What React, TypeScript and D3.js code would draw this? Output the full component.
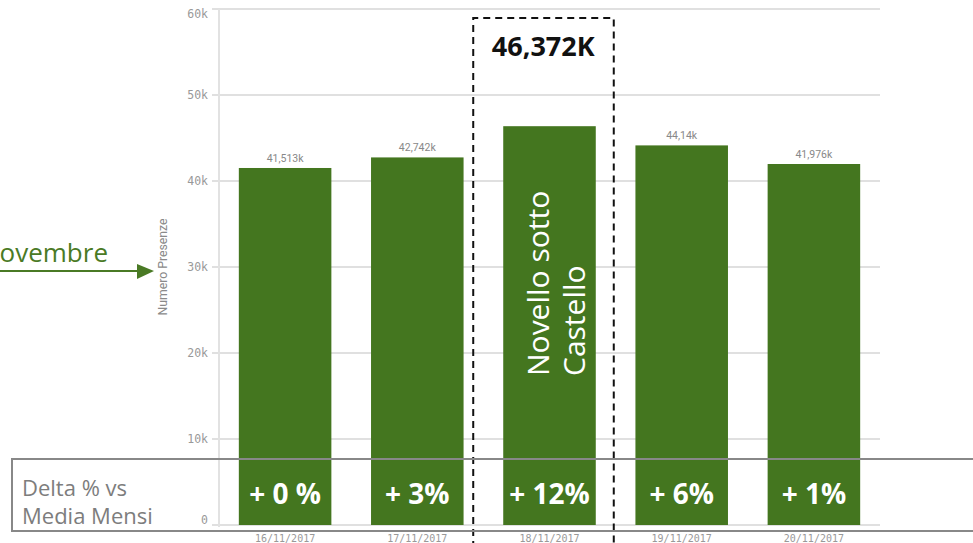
import React from 'react';
import * as d3 from 'd3';

const dates = ['16/11/2017', '17/11/2017', '18/11/2017', '19/11/2017', '20/11/2017'];
const presenze = [41513, 42742, 46372, 44140, 41976];
const valueLabels = ['41,513k', '42,742k', '', '44,14k', '41,976k'];
const deltaLabels = ['+ 0 %', '+ 3%', '+ 12%', '+ 6%', '+ 1%'];
const yTicks = [0, 10000, 20000, 30000, 40000, 50000, 60000];
const yTickLabels = ['0', '10k', '20k', '30k', '40k', '50k', '60k'];
const highlightIndex = 2;
const highlightValue = '46,372K';
const highlightName = ['Novello sotto', 'Castello'];

const W = 973;
const H = 543;
const GREEN = '#44761f';

export default function App() {
  const x = d3.scaleBand<string>().domain(dates).range([219, 880]).paddingInner(0.3).paddingOuter(0.15);
  const y = d3.scaleLinear().domain([0, 60000]).range([525, 9]);
  const bw = x.bandwidth();
  const hx = (x(dates[highlightIndex]) as number);

  return (
    <svg width={W} height={H} style={{ position: 'absolute', left: 0, top: 0, display: 'block' }}>
      <defs>
        <clipPath id="deltaClip">
          <rect x={0} y={440} width={154} height={100} />
        </clipPath>
      </defs>
      <rect x={0} y={0} width={W} height={H} fill="#fff" />

      {/* gridlines */}
      {yTicks.map((t, i) => (
        <g key={t}>
          <line x1={212} x2={880} y1={y(t)} y2={y(t)} stroke="#d6d6d6" strokeWidth={1.5} />
          <text
            x={208}
            y={y(t) + (i === yTicks.length - 1 ? 8.5 : i === 0 ? -1 : 4)}
            textAnchor="end"
            fontFamily="DejaVu Sans Mono"
            fontSize={11.5}
            fill="#999"
          >
            {yTickLabels[i]}
          </text>
        </g>
      ))}
      <line x1={219} x2={219} y1={9} y2={527} stroke="#e2e2e2" strokeWidth={2} />

      {/* y axis title */}
      <text
        transform={`translate(167,267) rotate(-90)`}
        textAnchor="middle"
        fontFamily="Roboto"
        fontSize={12}
        textLength={97}
        lengthAdjust="spacingAndGlyphs"
        fill="#8a8a8a"
      >
        Numero Presenze
      </text>

      {/* bars */}
      {dates.map((d, i) => (
        <rect key={d} x={x(d)} y={y(presenze[i])} width={bw} height={y(0) - y(presenze[i])} fill={GREEN} />
      ))}

      {/* value labels */}
      {dates.map((d, i) =>
        valueLabels[i] ? (
          <text
            key={d}
            x={(x(d) as number) + bw / 2}
            y={y(presenze[i]) - 6}
            textAnchor="middle"
            fontFamily="Roboto"
            fontSize={10.5}
            fill="#888"
          >
            {valueLabels[i]}
          </text>
        ) : null
      )}

      {/* x labels */}
      {dates.map((d) => (
        <text
          key={d}
          x={(x(d) as number) + bw / 2}
          y={542}
          textAnchor="middle"
          fontFamily="DejaVu Sans Mono"
          fontSize={10}
          fill="#999"
        >
          {d}
        </text>
      ))}

      {/* highlighted bar name */}
      {highlightName.map((s, k) => (
        <text
          key={s}
          transform={`translate(${hx + bw / 2 - 1 + k * 36},376) rotate(-90)`}
          fontFamily="Open Sans"
          fontSize={30}
          fill="#fff"
        >
          {s}
        </text>
      ))}

      {/* dashed highlight box */}
      <path
        d={`M${hx - 30},${H + 5} V18 H${hx + bw + 18} V${H + 5}`}
        fill="none"
        stroke="#111"
        strokeWidth={2}
        strokeDasharray="7,5"
      />
      <text
        x={hx + 40}
        y={56}
        textAnchor="middle"
        fontFamily="Open Sans"
        fontWeight={700}
        fontSize={27}
        fill="#111"
      >
        {highlightValue}
      </text>

      {/* delta box */}
      <rect x={12} y={459} width={W + 20} height={72} fill="none" stroke="#888" strokeWidth={2} />
      <g clipPath="url(#deltaClip)">
        <text x={22} y={496} fontFamily="Open Sans" fontSize={22} fill="#7d7d7d">Delta % vs</text>
        <text x={22} y={524} fontFamily="Open Sans" fontSize={22} fill="#7d7d7d">Media Mensile</text>
      </g>
      {dates.map((d, i) => (
        <text
          key={d}
          x={(x(d) as number) + bw / 2}
          y={504}
          textAnchor="middle"
          fontFamily="Open Sans"
          fontWeight={700}
          fontSize={28}
          fill="#fff"
        >
          {deltaLabels[i]}
        </text>
      ))}

      {/* left annotation */}
      <text x={108} y={262} textAnchor="end" fontFamily="Open Sans" fontSize={26} fill="#4a7a25">
        Novembre
      </text>
      <line x1={0} x2={140} y1={271} y2={271} stroke="#4a7a25" strokeWidth={2} />
      <path d="M137,264 L154,271 L137,279 Z" fill="#4a7a25" />
    </svg>
  );
}
